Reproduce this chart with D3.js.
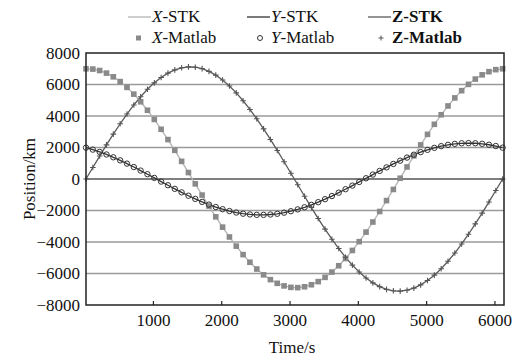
<!DOCTYPE html>
<html lang="en">
<head>
	<meta charset="UTF-8">
	<title>STK vs Matlab position</title>
	<script src="https://d3js.org/d3.v7.min.js"></script>
	<style>
		body { margin: 0; background: #fff; }
		text { font-family: "Liberation Serif", "DejaVu Serif", serif; fill: #111; }
	</style>
</head>
<body>
	<svg width="517" height="359"></svg>
	<script>

		// time samples (s), every 100 s
		var times = d3.range(20, 6121, 100);

		// X position (km)
		var xPos = [6998, 6979, 6888, 6723, 6488, 6185, 5816, 5388, 4902, 4364,
			3781, 3157, 2502, 1821, 1120, 409, -308, -1019, -1720, -2401,
			-3056, -3680, -4263, -4801, -5287, -5716, -6085, -6388, -6623, -6787,
			-6879, -6898, -6842, -6714, -6514, -6245, -5909, -5508, -5048, -4537,
			-3978, -3372, -2732, -2063, -1371, -664, 50, 766, 1472, 2164,
			2834, 3473, 4078, 4638, 5149, 5608, 6009, 6345, 6614, 6814,
			6943, 6998];

		// Y position (km)
		var yPos = [1990, 1866, 1720, 1557, 1378, 1184, 977, 760, 535, 304,
			70, -164, -397, -626, -848, -1061, -1263, -1451, -1625, -1780,
			-1918, -2034, -2129, -2202, -2251, -2276, -2278, -2254, -2208, -2137,
			-2045, -1930, -1795, -1641, -1470, -1282, -1082, -869, -648, -420,
			-187, 47, 282, 513, 738, 956, 1164, 1360, 1541, 1705,
			1852, 1979, 2085, 2169, 2230, 2267, 2280, 2269, 2234, 2175,
			2094, 1990];

		// Z position (km)
		var zPos = [0, 732, 1456, 2165, 2851, 3507, 4126, 4700, 5223, 5694,
			6105, 6449, 6725, 6930, 7061, 7118, 7099, 7005, 6836, 6595,
			6285, 5907, 5467, 4969, 4417, 3822, 3183, 2512, 1813, 1095,
			367, -367, -1095, -1813, -2512, -3183, -3822, -4417, -4969, -5467,
			-5907, -6285, -6595, -6836, -7005, -7099, -7118, -7061, -6930, -6725,
			-6449, -6105, -5694, -5223, -4700, -4126, -3507, -2851, -2165, -1456,
			-732, 0];

		var yTicks = [-8000, -6000, -4000, -2000, 0, 2000, 4000, 6000, 8000];
		var xTicks = [1000, 2000, 3000, 4000, 5000, 6000];

		var margin = {top: 53, right: 13, bottom: 54, left: 86};
		var width = 517 - margin.left - margin.right;
		var height = 359 - margin.top - margin.bottom;

		var svg = d3.select("svg");
		var g = svg.append("g")
			.attr("transform", "translate(" + margin.left + "," + margin.top + ")");

		var xScale = d3.scaleLinear()
			.domain([20, 6140])
			.range([0, width]);

		var yScale = d3.scaleLinear()
			.domain([-8000, 8000])
			.range([height, 0]);

		// grid lines
		g.selectAll(".grid")
			.data(yTicks.slice(1, -1))
			.enter()
			.append("line")
			.attr("x1", 0)
			.attr("x2", width)
			.attr("y1", function(d) { return yScale(d); })
			.attr("y2", function(d) { return yScale(d); })
			.attr("stroke", function(d) { return d == 0 ? "#555" : "#9a9a9a"; })
			.attr("stroke-width", 1.5);

		// y axis labels
		var yAxis = g.append("g")
			.call(d3.axisLeft(yScale).tickValues(yTicks).tickSize(0).tickPadding(6).tickFormat(d3.format("d")))
			.attr("font-family", null)
			.attr("font-size", null);
		yAxis.select(".domain").remove();
		yAxis.selectAll("text")
			.attr("font-family", "Liberation Serif")
			.attr("font-size", "17px")
			.attr("fill", "#111");

		// x axis
		var xAxis = g.append("g")
			.attr("transform", "translate(0," + height + ")")
			.call(d3.axisBottom(xScale).tickValues(xTicks).tickSizeInner(-4).tickSizeOuter(0).tickPadding(9).tickFormat(d3.format("d")))
			.attr("font-family", null)
			.attr("font-size", null);
		xAxis.select(".domain").remove();
		xAxis.selectAll("line").attr("stroke", "#222").attr("stroke-width", 1.2);
		xAxis.selectAll("text")
			.attr("font-family", "Liberation Serif")
			.attr("font-size", "17px")
			.attr("fill", "#111");

		// series
		var series = [
			{name: "X", values: xPos, line: "#b4b4b4"},
			{name: "Y", values: yPos, line: "#333"},
			{name: "Z", values: zPos, line: "#5a5a5a"}
		];

		var line = d3.line()
			.x(function(d, i) { return xScale(times[i]); })
			.y(function(d) { return yScale(d); });

		series.forEach(function(s) {
			g.append("path")
				.datum(s.values)
				.attr("fill", "none")
				.attr("stroke", s.line)
				.attr("stroke-width", 1.3)
				.attr("d", line);
		});

		// X-Matlab squares
		g.selectAll(".sq")
			.data(xPos)
			.enter()
			.append("rect")
			.attr("x", function(d, i) { return xScale(times[i]) - 2.8; })
			.attr("y", function(d) { return yScale(d) - 2.8; })
			.attr("width", 5.6)
			.attr("height", 5.6)
			.attr("fill", "#8a8a8a");

		// Y-Matlab circles
		g.selectAll(".circ")
			.data(yPos)
			.enter()
			.append("circle")
			.attr("cx", function(d, i) { return xScale(times[i]); })
			.attr("cy", function(d) { return yScale(d); })
			.attr("r", 2.7)
			.attr("fill", "none")
			.attr("stroke", "#333")
			.attr("stroke-width", 1);

		// Z-Matlab plus signs
		g.selectAll(".plus")
			.data(zPos)
			.enter()
			.append("path")
			.attr("transform", function(d, i) { return "translate(" + xScale(times[i]) + "," + yScale(d) + ")"; })
			.attr("d", "M-2.8,0H2.8M0,-2.8V2.8")
			.attr("stroke", "#555")
			.attr("stroke-width", 1.1);

		// frame
		g.append("rect")
			.attr("width", width)
			.attr("height", height)
			.attr("fill", "none")
			.attr("stroke", "#222")
			.attr("stroke-width", 1.5);

		// axis titles
		svg.append("text")
			.attr("x", margin.left + width / 2 - 3)
			.attr("y", 353)
			.attr("text-anchor", "middle")
			.style("font-size", "17px")
			.text("Time/s");

		svg.append("text")
			.attr("transform", "translate(35," + (margin.top + height / 2) + ") rotate(-90)")
			.attr("text-anchor", "middle")
			.style("font-size", "17px")
			.text("Position/km");

		// legend
		var legendItems = [
			{label: "X", suffix: "-STK", kind: "line", color: "#b4b4b4", x: 128, y: 17, bold: false},
			{label: "Y", suffix: "-STK", kind: "line", color: "#333", x: 247, y: 17, bold: false},
			{label: "Z", suffix: "-STK", kind: "line", color: "#5a5a5a", x: 368, y: 17, bold: true},
			{label: "X", suffix: "-Matlab", kind: "square", color: "#8a8a8a", x: 128, y: 38, bold: false},
			{label: "Y", suffix: "-Matlab", kind: "circle", color: "#333", x: 247, y: 38, bold: false},
			{label: "Z", suffix: "-Matlab", kind: "plus", color: "#555", x: 368, y: 38, bold: true}
		];

		legendItems.forEach(function(d) {
			var lg = svg.append("g").attr("transform", "translate(" + d.x + "," + d.y + ")");
			if (d.kind == "line") {
				lg.append("line").attr("x1", 0).attr("x2", 23).attr("y1", 0).attr("y2", 0)
					.attr("stroke", d.color).attr("stroke-width", 1.3);
			} else if (d.kind == "square") {
				lg.append("rect").attr("x", 8).attr("y", -2.5).attr("width", 5).attr("height", 5).attr("fill", d.color);
			} else if (d.kind == "circle") {
				lg.append("circle").attr("cx", 13).attr("cy", 0).attr("r", 2.5)
					.attr("fill", "none").attr("stroke", d.color);
			} else {
				lg.append("path").attr("d", "M13,-2.5V2.5M10.5,0H15.5").attr("stroke", d.color);
			}
			var t = lg.append("text")
				.attr("x", 24)
				.attr("y", 5)
				.style("font-size", "17px")
				.style("font-weight", d.bold ? "bold" : "normal");
			t.append("tspan").style("font-style", d.bold ? "normal" : "italic").text(d.label);
			t.append("tspan").text(d.suffix);
		});

	</script>
</body>
</html>
